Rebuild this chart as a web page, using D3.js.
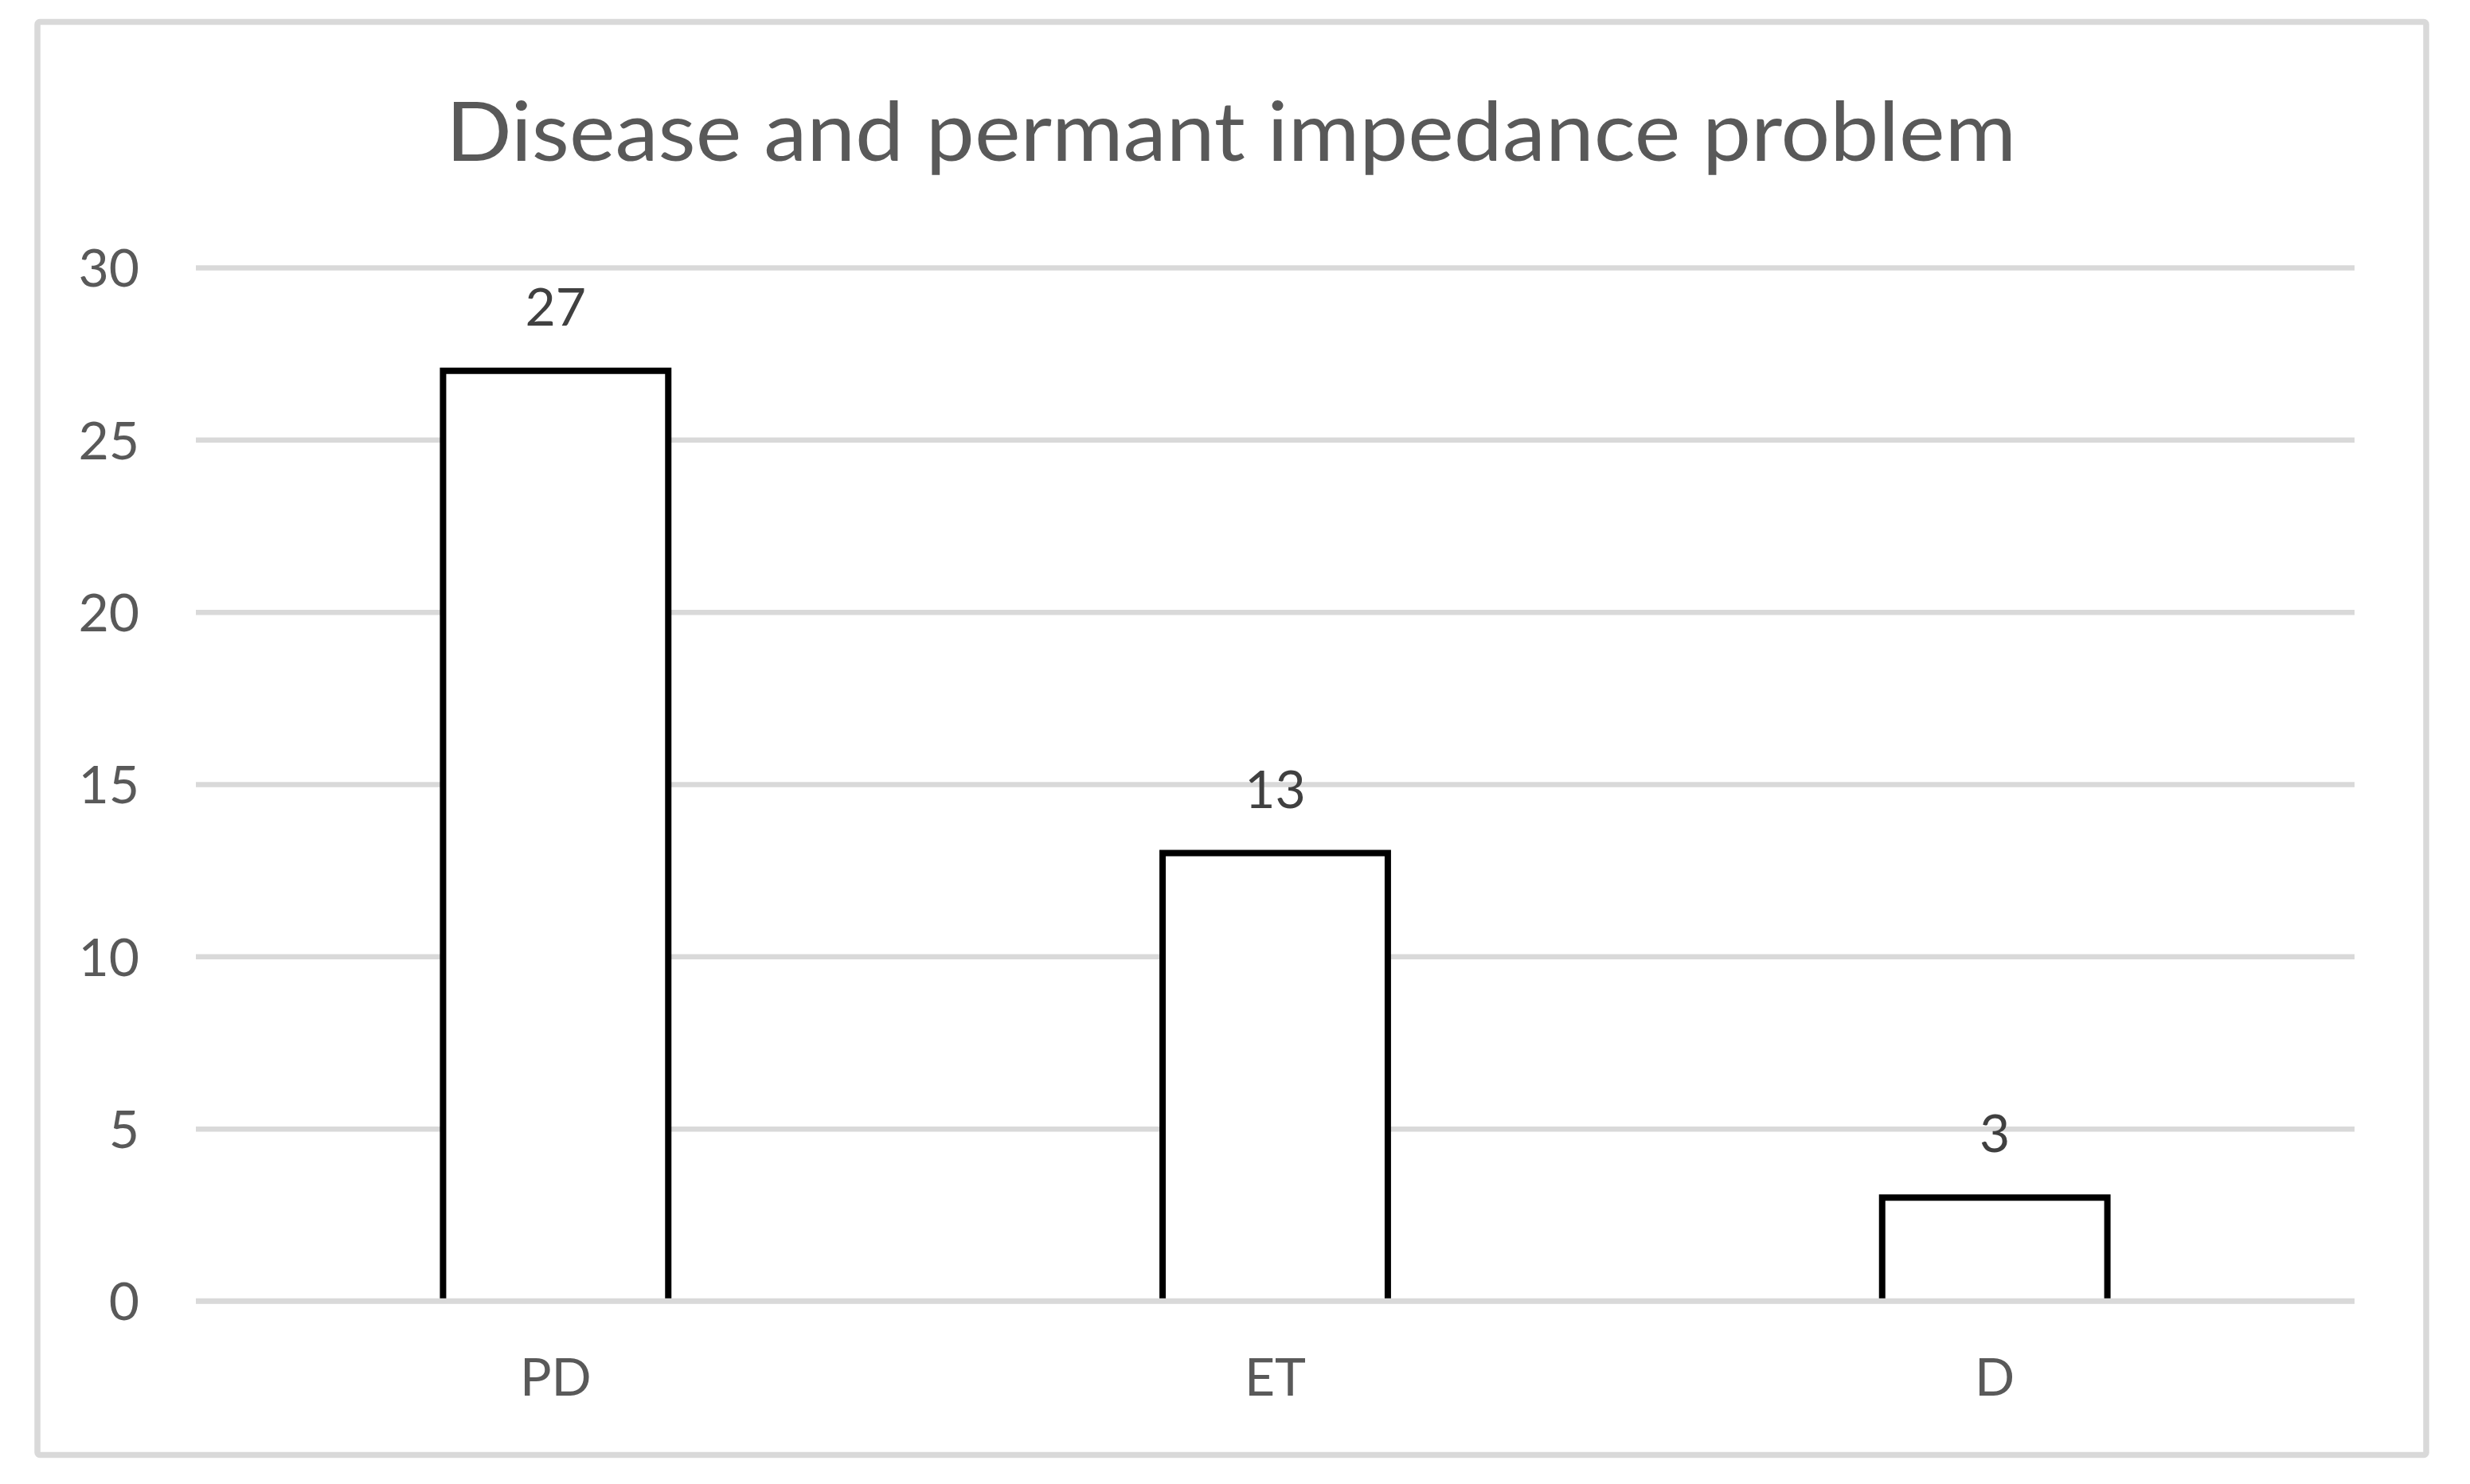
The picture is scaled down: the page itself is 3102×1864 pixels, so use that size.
<!DOCTYPE html>
<html>
<head>
<meta charset="utf-8">
<script src="https://cdn.jsdelivr.net/npm/d3@7"></script>
<style>
  html, body { margin: 0; padding: 0; background: #ffffff; }
  svg { display: block; }
</style>
</head>
<body>
<script>
// ---- data ----
const categories = ["PD", "ET", "D"];
const values = [27, 13, 3];
const yTicks = [0, 5, 10, 15, 20, 25, 30];
const titleText = "Disease and permant impedance problem";

const W = 3102, H = 1864;
const svg = d3.select("body").append("svg").attr("width", W).attr("height", H);
const font = "Lato, 'Open Sans', sans-serif";

// outer border
svg.append("rect")
  .attr("x", 47).attr("y", 27.5).attr("width", 3000).attr("height", 1800)
  .attr("rx", 3)
  .attr("fill", "#ffffff").attr("stroke", "#d9d9d9").attr("stroke-width", 7.5);

// title
svg.append("text")
  .attr("x", 1546).attr("y", 202)
  .attr("text-anchor", "middle")
  .attr("font-family", font).attr("font-size", 103)
  .attr("fill", "#595959")
  .attr("textLength", 1972).attr("lengthAdjust", "spacingAndGlyphs")
  .text(titleText);

const plot = { left: 246, right: 2957, top: 336, bottom: 1634 };

const y = d3.scaleLinear().domain([0, 30]).range([plot.bottom, plot.top]);
const x = d3.scaleBand().domain(categories).range([plot.left, plot.right])
  .paddingInner(0.687).paddingOuter(0.3435);

// gridlines via axis
const yAxis = d3.axisLeft(y).tickValues(yTicks).tickSize(-(plot.right - plot.left)).tickPadding(71);
const gy = svg.append("g").attr("transform", `translate(${plot.left},0)`).call(yAxis);
gy.select(".domain").remove();
gy.selectAll(".tick line").attr("stroke", "#d9d9d9").attr("stroke-width", 6.5);
gy.selectAll(".tick text")
  .attr("font-family", font).attr("font-size", 66)
  .attr("fill", "#595959").attr("dy", "0.36em");

// x axis labels
const xAxis = d3.axisBottom(x).tickSize(0).tickPadding(0);
const gx = svg.append("g").attr("transform", `translate(0,${plot.bottom})`).call(xAxis);
gx.select(".domain").remove();
gx.selectAll(".tick text")
  .attr("font-family", font).attr("font-size", 66)
  .attr("fill", "#595959").attr("dy", null).attr("y", 119);

const barData = categories.map((c, i) => ({ c, v: values[i] }));

// bars: outlined on left, top and right; bottom sits under the axis line
svg.append("g").selectAll("path")
  .data(barData)
  .join("path")
  .attr("d", d => {
    const x0 = x(d.c), x1 = x(d.c) + x.bandwidth(), y0 = y(0), y1 = y(d.v);
    return `M${x0},${y0 - 3}L${x0},${y1}L${x1},${y1}L${x1},${y0 - 3}`;
  })
  .attr("fill", "#ffffff").attr("stroke", "#000000").attr("stroke-width", 8)
  .attr("stroke-linejoin", "miter");

// horizontal category axis line drawn over bar bottoms
svg.append("line")
  .attr("x1", plot.left).attr("x2", plot.right)
  .attr("y1", y(0)).attr("y2", y(0))
  .attr("stroke", "#d9d9d9").attr("stroke-width", 6.5);

// data labels
svg.append("g").selectAll("text")
  .data(barData)
  .join("text")
  .attr("x", d => x(d.c) + x.bandwidth() / 2)
  .attr("y", d => y(d.v) - 57)
  .attr("text-anchor", "middle")
  .attr("font-family", font).attr("font-size", 66)
  .attr("fill", "#404040")
  .text(d => d.v);
</script>
</body>
</html>
